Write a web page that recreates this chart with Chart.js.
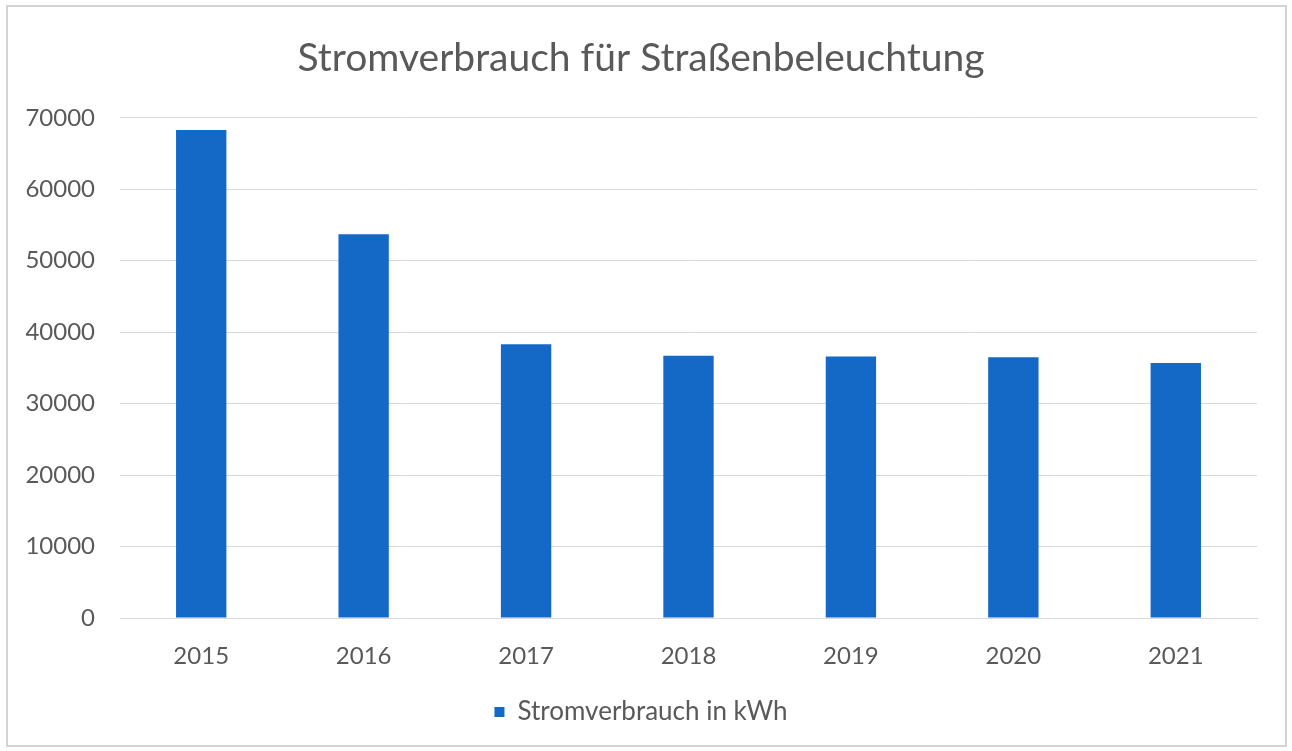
<!DOCTYPE html>
<html lang="de">
<head>
<meta charset="utf-8">
<title>Stromverbrauch für Straßenbeleuchtung</title>
<script src="https://cdn.jsdelivr.net/npm/chart.js@4"></script>
<style>
    html, body { margin: 0; padding: 0; background: #ffffff; }
    #wrap { position: relative; width: 1292px; height: 751px; }
    #rahmen {
        position: absolute; left: 6px; top: 5px; width: 1277px; height: 738px;
        border: 2px solid #d4d4d4; pointer-events: none;
    }
</style>
</head>
<body>
<div id="wrap">
    <canvas id="stromChart" width="1292" height="751"></canvas>
    <div id="rahmen"></div>
</div>
<script>
// Daten
const jahre = ['2015', '2016', '2017', '2018', '2019', '2020', '2021'];
const verbrauchKwh = [68300, 53700, 38300, 36700, 36600, 36500, 35700];
const yTicks = [0, 10000, 20000, 30000, 40000, 50000, 60000, 70000];

const schrift = 'Lato, "Open Sans", sans-serif';

document.addEventListener('DOMContentLoaded', () => {
    const ctx = document.getElementById('stromChart').getContext('2d');
    new Chart(ctx, {
        type: 'bar',
        data: {
            labels: jahre,
            datasets: [{
                label: 'Stromverbrauch in kWh',
                data: verbrauchKwh,
                backgroundColor: '#1469c7',
                categoryPercentage: 1,
                barPercentage: 0.31
            }]
        },
        options: {
            responsive: false,
            animation: false,
            layout: {
                padding: { left: 25, right: 35, top: 35, bottom: 16 }
            },
            plugins: {
                title: {
                    display: true,
                    text: 'Stromverbrauch für Straßenbeleuchtung',
                    color: '#595959',
                    font: { family: schrift, size: 39, weight: 'normal' },
                    padding: { top: 0, bottom: 36 }
                },
                legend: {
                    position: 'bottom',
                    labels: {
                        color: '#595959',
                        font: { family: schrift, size: 26 },
                        boxWidth: 10,
                        boxHeight: 10,
                        padding: 10
                    }
                },
                tooltip: { enabled: false }
            },
            scales: {
                x: {
                    grid: { display: false },
                    border: { color: '#d9d9d9' },
                    ticks: {
                        color: '#595959',
                        font: { family: schrift, size: 24 },
                        padding: 16
                    },
                    afterFit: (s) => { s.height = 71; }
                },
                y: {
                    min: 0,
                    max: 70000,
                    afterBuildTicks: (s) => { s.ticks = yTicks.map(v => ({ value: v })); },
                    grid: { color: '#d9d9d9', drawTicks: false },
                    border: { display: false },
                    ticks: {
                        color: '#595959',
                        font: { family: schrift, size: 24 },
                        padding: 25,
                        callback: (v) => String(v)
                    },
                    afterFit: (s) => { s.width = 95; }
                }
            }
        }
    });
});
</script>
</body>
</html>
